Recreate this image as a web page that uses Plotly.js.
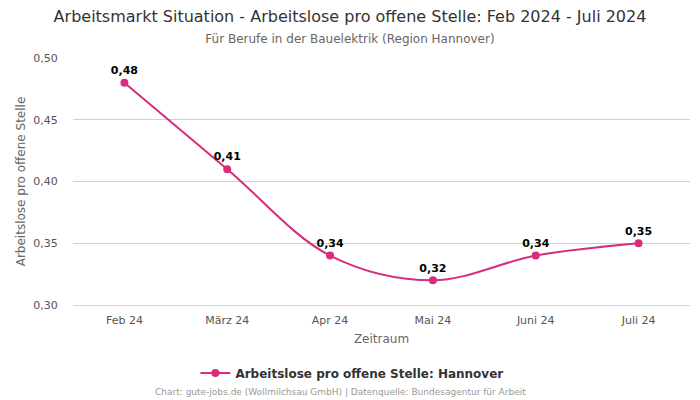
<!DOCTYPE html>
<html>
<head>
<meta charset="utf-8">
<script src="https://cdn.plot.ly/plotly-3.0.1.min.js"></script>
<style>body{margin:0}</style>
</head>
<body>
<div id="chart" style="width:700px;height:400px"></div>
<script>
// Monate und Werte
var monate = ['Feb 24', 'März 24', 'Apr 24', 'Mai 24', 'Juni 24', 'Juli 24'];
var werte = [0.48, 0.41, 0.34, 0.32, 0.34, 0.35];

var farbe = 'rgb(214, 46, 124)';

var hannover = {
  x: monate,
  y: werte,
  type: 'scatter',
  mode: 'lines+markers+text',
  name: 'Arbeitslose pro offene Stelle: Hannover',
  line: {color: farbe, width: 2, shape: 'spline', smoothing: 1},
  marker: {color: farbe, size: 8},
  texttemplate: '%{y:.2f}',
  textposition: 'top center',
  textfont: {family: 'DejaVu Sans', size: 11, color: '#000', weight: 'bold'},
  hoverinfo: 'x+y'
};

var layout = {
  width: 700,
  height: 400,
  separators: ',.',
  font: {family: 'DejaVu Sans', color: '#555'},
  title: {
    text: 'Arbeitsmarkt Situation - Arbeitslose pro offene Stelle: Feb 2024 - Juli 2024' +
      '<br><span style="font-size:12px;color:#666">Für Berufe in der Bauelektrik (Region Hannover)</span>',
    font: {size: 16, color: '#333'},
    x: 0.5,
    y: 0.945,
    yanchor: 'top'
  },
  margin: {l: 73, r: 10, t: 58, b: 95},
  xaxis: {
    title: {text: 'Zeitraum', font: {size: 12, color: '#666'}, standoff: 8},
    range: [-0.5, 5.5],
    tickfont: {size: 11, color: '#555'},
    showgrid: false,
    showline: true,
    linecolor: '#ccd6eb',
    ticks: 'outside',
    ticklen: 5,
    tickcolor: 'rgba(0,0,0,0)'
  },
  yaxis: {
    title: {text: 'Arbeitslose pro offene Stelle', font: {size: 12, color: '#666'}, standoff: 5},
    range: [0.3, 0.5],
    dtick: 0.05,
    tickformat: '.2f',
    tickfont: {size: 11, color: '#555'},
    gridcolor: '#d0d0d0',
    zeroline: false,
    ticks: 'outside',
    ticklen: 12,
    tickcolor: 'rgba(0,0,0,0)'
  },
  showlegend: true,
  legend: {
    orientation: 'h',
    yref: 'container',
    x: 0.452,
    xanchor: 'center',
    y: 0.0675,
    yanchor: 'middle',
    font: {size: 12, color: '#333', weight: 'bold'}
  },
  annotations: [{
    text: 'Chart: gute-jobs.de (Wollmilchsau GmbH) | Datenquelle: Bundesagentur für Arbeit',
    xref: 'paper', yref: 'paper',
    x: 0.5, y: -0.352,
    xanchor: 'center', yanchor: 'middle',
    xshift: -41,
    showarrow: false,
    font: {size: 9, color: '#999'}
  }],
  paper_bgcolor: '#fff',
  plot_bgcolor: '#fff'
};

Plotly.newPlot('chart', [hannover], layout, {displayModeBar: false});
</script>
</body>
</html>
